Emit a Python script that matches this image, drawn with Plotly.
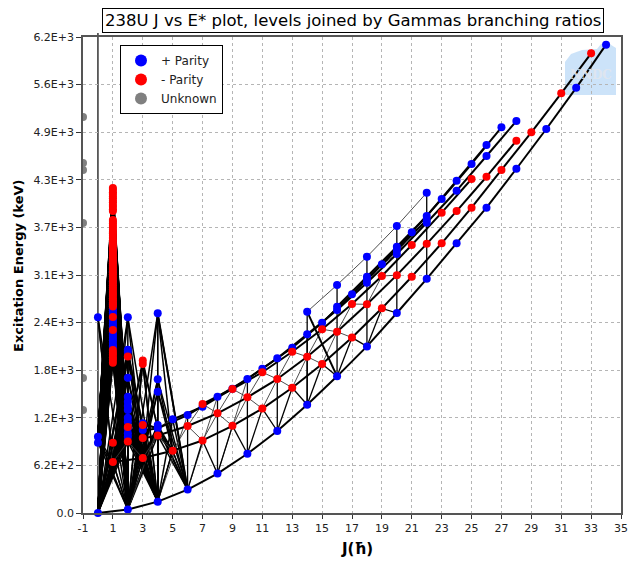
import plotly.graph_objects as go

# ---------------- data ----------------
gsb_J = [0, 2, 4, 6, 8, 10, 12, 14, 16, 18, 20, 22, 24, 26, 28, 30, 32, 34]
gsb_E = [0, 45, 148, 305, 513, 772, 1068, 1410, 1780, 2170, 2605, 3050, 3515, 3977, 4484, 5002, 5538, 6100]

oct_J = [1, 3, 5, 7, 9, 11, 13, 15, 17, 19, 21, 23, 25, 27, 29, 31, 33]
oct_E = [664, 716, 812, 945, 1135, 1360, 1632, 1941, 2285, 2666, 3078, 3513, 3977, 4468, 4958, 5466, 5988]

neg_even_J = [2, 4, 6, 8, 10, 12, 14, 16, 18, 20, 22, 24, 26, 28]
neg_even_E = [932, 1010, 1133, 1298, 1507, 1745, 2036, 2361, 2718, 3098, 3506, 3933, 4380, 4849]

neg_odd_J = [7, 9, 11, 13, 15, 17, 19, 21, 23, 25]
neg_odd_E = [1420, 1615, 1833, 2101, 2393, 2722, 3087, 3491, 3912, 4350]

bandA_J = [2, 4, 6, 8, 10, 12, 14, 16, 18, 20, 22, 24, 26, 28]
bandA_E = [1038, 1103, 1276, 1515, 1745, 2015, 2327, 2644, 3000, 3373, 3781, 4198, 4650, 5106]

bandB_J = [5, 7, 9, 11, 13, 15, 17, 19, 21, 23, 25, 27]
bandB_E = [1220, 1384, 1620, 1880, 2153, 2479, 2849, 3239, 3656, 4090, 4546, 5024]

bandC_J = [16, 18, 20, 22, 24, 26]
bandC_E = [2687, 3078, 3469, 3868, 4328, 4793]

bandD_J = [18, 20, 22]
bandD_E = [3044, 3426, 3816]

bandE_J = [14, 16, 18, 20, 22]
bandE_E = [2622, 2970, 3338, 3738, 4172]

# isolated low-spin levels
j0_blue_E = [916, 994, 2549]
j1_red_E = [916,
            4233, 4209, 4178, 4155, 4124, 4101, 4068, 4046, 4013, 3990, 3958, 3932,
            3816, 3794, 3770, 3741, 3719, 3688, 3660, 3641, 3610, 3583, 3551, 3530,
            3497, 3473, 3440, 3418, 3386, 3361, 3330, 3307, 3276, 3249, 3220, 3191,
            3168, 3135, 3110, 3078, 3052, 3021, 2996, 2968, 2937, 2911, 2880, 2853,
            2826, 2795, 2771, 2742, 2718, 2690,
            2553, 2384,
            2123, 2088, 2061, 2024, 1996, 1958]
j1_blue_E = [3410, 3290, 3150, 3020, 2731, 2702, 2668, 2641, 2610, 2582, 2520,
             2489, 2455, 2421, 2350, 2318, 2283, 2250, 2214, 2180, 2166]
j2_blue_E = [994, 1103, 1189, 1241, 1342, 1394, 1450, 1515, 1762, 2101, 2125, 2549]
j2_red_E = [1120, 2040]
j3_red_E = [977, 1146, 1940, 1985]
j3_blue_E = [1081, 1168]
j4_blue_E = [1146, 1580, 1741, 2601]

unknown_J = [-1, -1, -1, -1, -1, -1]
unknown_E = [5158, 4559, 4468, 3777, 1758, 1342]

ytick_vals = [0, 620, 1240, 1860, 2480, 3100, 3720, 4340, 4960, 5580, 6200]
ytick_text = ["0.0", "6.2E+2", "1.2E+3", "1.8E+3", "2.4E+3", "3.1E+3",
              "3.7E+3", "4.3E+3", "4.9E+3", "5.6E+3", "6.2E+3"]
xtick_vals = [-1, 1, 3, 5, 7, 9, 11, 13, 15, 17, 19, 21, 23, 25, 27, 29, 31, 33, 35]
xtick_text = ["-1", "1", "3", "5", "7", "9", "11", "13", "15", "17", "19", "21",
              "23", "25", "27", "29", "31", "33", "35"]

title_text = "238U J vs E* plot, levels joined by Gammas branching ratios"

# ---------------- level scheme ----------------
bands = {
    "gsb": (gsb_J, gsb_E, "+"),
    "oct": (oct_J, oct_E, "-"),
    "neven": (neg_even_J, neg_even_E, "-"),
    "nodd": (neg_odd_J, neg_odd_E, "-"),
    "A": (bandA_J, bandA_E, "+"),
    "B": (bandB_J, bandB_E, "+"),
    "C": (bandC_J, bandC_E, "+"),
    "D": (bandD_J, bandD_E, "+"),
    "E": (bandE_J, bandE_E, "+"),
}
band_line_group = {"E": "thin"}
extras = [
    (0, j0_blue_E, "+"), (1, j1_red_E, "-"), (1, j1_blue_E, "+"),
    (2, j2_blue_E, "+"), (2, j2_red_E, "-"), (3, j3_red_E, "-"),
    (3, j3_blue_E, "+"), (4, j4_blue_E, "+"),
]


def lv(b, J):
    Js, Es, _ = bands[b]
    if J in Js:
        return (J, Es[Js.index(J)])
    return None


groups = {"band": [], "mid": [], "thin": [], "fan": []}


def link(g, a, b):
    if a is not None and b is not None:
        groups[g].append((a, b))


# in-band E2 cascades
for name, (Js, Es, _) in bands.items():
    for i in range(1, len(Js)):
        link(band_line_group.get(name, "band"), (Js[i - 1], Es[i - 1]), (Js[i], Es[i]))

# low-spin fans toward the ground band and the lowest excited levels
fan_gsb = {0: [2], 1: [0, 2], 2: [0, 2, 4], 3: [2, 4], 4: [2, 4, 6], 5: [4, 6]}
fan_other = {
    0: [("oct", 1)],
    1: [("A", 2), ("neven", 2)],
    2: [("oct", 1), ("oct", 3)],
    3: [("A", 2), ("A", 4)],
    4: [("oct", 3), ("oct", 5)],
    5: [("A", 4)],
}
low_levels = []
for J, Es, _ in extras:
    for E in Es:
        low_levels.append((J, E))
for name in ["oct", "neven", "A", "B"]:
    Js, Es, _ = bands[name]
    for J, E in zip(Js, Es):
        if J <= 5:
            low_levels.append((J, E))
for J, E in low_levels:
    for t in fan_gsb[J]:
        link("fan", (J, E), lv("gsb", t))
    for b, t in fan_other[J]:
        tgt = lv(b, t)
        if tgt is not None and tgt[1] < E:
            link("fan", (J, E), tgt)
for E in j1_red_E + j1_blue_E:
    for E0 in j0_blue_E[:2]:
        if E0 < E:
            link("fan", (1, E), (0, E0))

# inter-band branches
for J in oct_J:
    if J <= 19:
        link("mid", lv("oct", J), lv("gsb", J - 1))
        link("mid", lv("oct", J), lv("gsb", J + 1))
for J in neg_even_J:
    if J <= 16:
        link("thin", lv("neven", J), lv("oct", J - 1))
        link("thin", lv("neven", J), lv("oct", J + 1))
for J in neg_odd_J:
    if J <= 19:
        link("thin", lv("nodd", J), lv("neven", J - 1))
        link("thin", lv("nodd", J), lv("neven", J + 1))
for J in bandA_J:
    if 4 <= J <= 14:
        link("mid", lv("A", J), lv("gsb", J))
    if 4 <= J <= 10:
        link("thin", lv("A", J), lv("gsb", J - 2))
for J in bandB_J:
    if J <= 21:
        link("thin", lv("B", J), lv("A", J - 1))
        link("thin", lv("B", J), lv("A", J + 1))
for J in bandC_J:
    if J <= 22:
        link("thin", lv("C", J), lv("B", J - 1))
for J in bandE_J:
    link("mid", lv("E", J), lv("gsb", J))
link("band", lv("E", 14), lv("gsb", 16))
link("band", (4, j4_blue_E[3]), lv("gsb", 6))
link("mid", (4, j4_blue_E[3]), (4, j4_blue_E[2]))
link("mid", (0, j0_blue_E[2]), lv("oct", 1))


def seg_xy(pairs):
    xs, ys = [], []
    for (a, b) in pairs:
        xs += [a[0], b[0], None]
        ys += [a[1], b[1], None]
    return xs, ys


fig = go.Figure()
line_styles = {
    "fan": dict(color="black", width=1.5),
    "thin": dict(color="#3a3a3a", width=0.9),
    "mid": dict(color="black", width=1.3),
    "band": dict(color="black", width=2.0),
}
for g in ["fan", "thin", "mid", "band"]:
    xs, ys = seg_xy(groups[g])
    fig.add_trace(go.Scatter(x=xs, y=ys, mode="lines", line=line_styles[g],
                             hoverinfo="skip", showlegend=False))

pos_x, pos_y, neg_x, neg_y = [], [], [], []
for name, (Js, Es, par) in bands.items():
    for J, E in zip(Js, Es):
        (pos_x if par == "+" else neg_x).append(J)
        (pos_y if par == "+" else neg_y).append(E)
for J, Es, par in extras:
    for E in Es:
        (pos_x if par == "+" else neg_x).append(J)
        (pos_y if par == "+" else neg_y).append(E)

fig.add_trace(go.Scatter(x=pos_x, y=pos_y, mode="markers", name="+ Parity",
                         marker=dict(color="#0000ff", size=8, line=dict(width=0)),
                         cliponaxis=False))
fig.add_trace(go.Scatter(x=neg_x, y=neg_y, mode="markers", name="- Parity",
                         marker=dict(color="#ff0000", size=8, line=dict(width=0)),
                         cliponaxis=False))
fig.add_trace(go.Scatter(x=unknown_J, y=unknown_E, mode="markers", name="Unknown",
                         marker=dict(color="#808080", size=8, line=dict(width=0)),
                         cliponaxis=True))

# ---------------- layout ----------------
L, R, T, B = 83, 621, 37, 513
W, H = R - L, B - T
FIG_W, FIG_H = 630, 561


def px(p):
    return (p - L) / W


def py(p):
    return (B - p) / H


font = "DejaVu Sans"
fig.update_layout(
    width=FIG_W, height=FIG_H,
    margin=dict(l=L, r=FIG_W - R, t=T, b=FIG_H - B, autoexpand=False),
    paper_bgcolor="white", plot_bgcolor="white",
    font=dict(family=font, size=11, color="#222"),
    showlegend=True,
    legend=dict(x=px(120), y=py(45), xanchor="left", yanchor="top",
                bordercolor="black", borderwidth=1, bgcolor="white",
                font=dict(family=font, size=12, color="#222"),
                itemsizing="constant", tracegroupgap=0),
    hovermode=False,
)
fig.update_xaxes(range=[-1, 35], tickvals=xtick_vals, ticktext=xtick_text,
                 ticks="outside", ticklen=4,
                 tickcolor="#333", showline=True, linecolor="#555", linewidth=1.5,
                 mirror=True, showgrid=True, gridcolor="#b5b5b5", griddash="dot",
                 gridwidth=1, zeroline=False, tickfont=dict(size=11, color="#222"))
fig.update_yaxes(range=[0, 6200], tickvals=ytick_vals, ticktext=ytick_text,
                 ticks="outside", ticklen=5, tickcolor="#333", showline=True,
                 linecolor="#555", linewidth=1.5, mirror=True, showgrid=True,
                 gridcolor="#b5b5b5", griddash="dot", gridwidth=1, zeroline=False,
                 tickfont=dict(size=11, color="#222"))

# reference line at J = 0
fig.add_shape(type="line", xref="x", yref="paper", x0=0, x1=0, y0=0, y1=py(33),
              line=dict(color="black", width=1.2), layer="below")

# NNDC watermark
pts = [(565, 95), (565, 62), (571, 54), (582, 50), (597, 49), (601, 44),
       (608, 43), (616, 48), (616, 95)]
path = "M " + " L ".join(f"{px(a):.4f},{py(b):.4f}" for a, b in pts) + " Z"
fig.add_shape(type="path", xref="paper", yref="paper", path=path,
              fillcolor="rgba(170,208,245,0.6)", line=dict(width=0), layer="below")
fig.add_annotation(xref="paper", yref="paper", x=px(591), y=py(75), text="<b>NNDC</b>",
                   xanchor="center", yanchor="middle",
                   showarrow=False, font=dict(family="DejaVu Serif", size=12,
                                              color="rgba(225,230,238,0.9)"))

# title box
fig.add_annotation(xref="paper", yref="paper", x=px(353), y=py(21), text=title_text,
                   showarrow=False, xanchor="center", yanchor="middle",
                   font=dict(family=font, size=16.5, color="black"),
                   bordercolor="black", borderwidth=1, borderpad=2, bgcolor="white")
# axis titles
fig.add_annotation(xref="paper", yref="paper", x=px(18), y=py(266),
                   xanchor="center", yanchor="middle",
                   text="<b>Excitation Energy (keV)</b>", textangle=-90,
                   showarrow=False, font=dict(family=font, size=13, color="black"))
fig.add_annotation(xref="paper", yref="paper", x=px(357), y=py(549),
                   xanchor="center", yanchor="middle",
                   text="<b>J(ħ)</b>", showarrow=False,
                   font=dict(family=font, size=15, color="black"))

fig.write_html("out.html",
               config={"displayModeBar": False},
               post_script="document.body.style.margin='0px';"
                           "document.body.style.overflow='hidden';")
